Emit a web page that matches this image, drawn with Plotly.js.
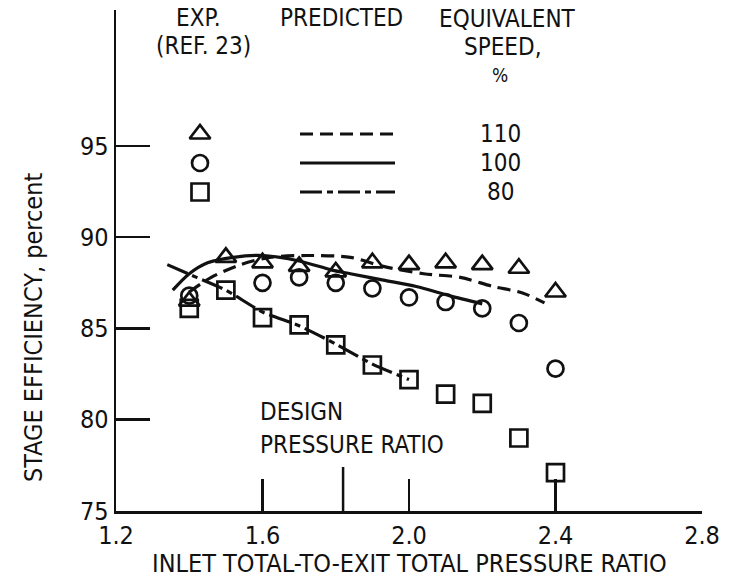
<!DOCTYPE html>
<html>
<head>
<meta charset="utf-8">
<script src="https://cdn.plot.ly/plotly-3.0.1.min.js"></script>
<style>html,body{margin:0;padding:0;background:#fff;}#chart{width:729px;height:580px;}</style>
</head>
<body>
<div id="chart"></div>
<script>
// ---- data ----
var xTickVals = [1.2, 1.6, 2.0, 2.4, 2.8];
var xTickText = ['1.2', '1.6', '2.0', '2.4', '2.8'];
var yTickVals = [75, 80, 85, 90, 95];
var yTickText = ['75', '80', '85', '90', '95'];

// Experimental (Ref. 23)
var exp110X = [1.4, 1.5, 1.6, 1.7, 1.8, 1.9, 2.0, 2.1, 2.2, 2.3, 2.4];
var exp110Y = [86.5, 88.9, 88.6, 88.4, 88.1, 88.6, 88.5, 88.6, 88.5, 88.3, 87.0];
var exp100X = [1.4, 1.6, 1.7, 1.8, 1.9, 2.0, 2.1, 2.2, 2.3, 2.4];
var exp100Y = [86.8, 87.5, 87.8, 87.5, 87.2, 86.7, 86.45, 86.1, 85.3, 82.8];
var exp80X = [1.4, 1.5, 1.6, 1.7, 1.8, 1.9, 2.0, 2.1, 2.2, 2.3, 2.4];
var exp80Y = [86.1, 87.1, 85.6, 85.2, 84.1, 83.0, 82.2, 81.4, 80.9, 79.0, 77.1];

// Predicted
var pred110X = [1.40, 1.46, 1.54, 1.62, 1.72, 1.84, 1.93, 2.04, 2.14, 2.23, 2.31, 2.37];
var pred110Y = [87.0, 87.8, 88.5, 88.9, 89.0, 88.9, 88.4, 88.0, 87.8, 87.3, 86.95, 86.4];
var pred100X = [1.355, 1.40, 1.45, 1.52, 1.60, 1.70, 1.79, 1.84, 1.93, 2.02, 2.11, 2.20];
var pred100Y = [87.1, 88.0, 88.6, 88.9, 89.0, 88.7, 88.2, 88.0, 87.65, 87.3, 86.8, 86.35];
var pred80X = [1.34, 1.42, 1.50, 1.60, 1.70, 1.80, 1.90, 2.00];
var pred80Y = [88.5, 87.8, 87.1, 85.9, 85.15, 84.15, 83.05, 82.2];

var designRatio = 1.82;
var speedLabels = ['110', '100', '80'];

// ---- layout geometry ----
var W = 729, H = 580;
var M = {l: 116, r: 27, t: 10, b: 69};
var xRange = [1.2, 2.8], yRange = [75, 102.45];
var pw = W - M.l - M.r, ph = H - M.t - M.b;
function dx(px) { return xRange[0] + (px - M.l) / pw * (xRange[1] - xRange[0]); }
function dy(py) { return yRange[0] + (M.t + ph - py) / ph * (yRange[1] - yRange[0]); }
function ppx(px) { return (px - M.l) / pw; }
function ppy(py) { return (M.t + ph - py) / ph; }

var FONT = "'Liberation Sans Narrow', 'DejaVu Sans Condensed', 'Arial Narrow', sans-serif";
var INK = '#111';
var LW = 3.2;

var dash110 = '13px,7px';
var dash80 = '22px,5px,6px,5px';

var keyRowsPy = [134, 163, 192];
var keyMarkPx = 200, keyLine = [300, 395], keyNumPx = 500;
var symbols = ['triangle-up-open', 'circle-open', 'square-open'];
var sizes = [18, 16, 17];
var dashes = [dash110, 'solid', dash80];

var traces = [];
// predicted curves
traces.push({x: pred110X, y: pred110Y, mode: 'lines', line: {color: INK, width: LW, dash: dash110, shape: 'spline', smoothing: 0.8}, hoverinfo: 'skip'});
traces.push({x: pred100X, y: pred100Y, mode: 'lines', line: {color: INK, width: LW, shape: 'spline', smoothing: 0.8}, hoverinfo: 'skip'});
traces.push({x: pred80X, y: pred80Y, mode: 'lines', line: {color: INK, width: LW, dash: dash80, shape: 'spline', smoothing: 0.6}, hoverinfo: 'skip'});
// experimental points
var mk = function (i) { return {symbol: symbols[i], size: sizes[i], color: INK, line: {color: INK, width: 2.7}}; };
traces.push({x: exp110X, y: exp110Y, mode: 'markers', marker: mk(0)});
traces.push({x: exp100X, y: exp100Y, mode: 'markers', marker: mk(1)});
traces.push({x: exp80X, y: exp80Y, mode: 'markers', marker: mk(2)});

// key symbols and lines
for (var i = 0; i < 3; i++) {
  traces.push({x: [dx(keyMarkPx)], y: [dy(keyRowsPy[i])], mode: 'markers', marker: mk(i), hoverinfo: 'skip'});
  traces.push({x: [dx(keyLine[0]), dx(keyLine[1])], y: [dy(keyRowsPy[i]), dy(keyRowsPy[i])], mode: 'lines',
    line: {color: INK, width: LW, dash: dashes[i]}, hoverinfo: 'skip'});
}

var ann = [];
function txt(t, px, py, anchor, size, angle) {
  ann.push({text: t, xref: 'paper', yref: 'paper', x: ppx(px), y: ppy(py), xanchor: anchor || 'center', yanchor: 'middle',
    showarrow: false, textangle: angle || 0, font: {family: FONT, size: size || 24, color: INK}});
}
txt('EXP.', 198, 18);
txt('(REF. 23)', 203, 46);
txt('PREDICTED', 341, 18);
txt('EQUIVALENT', 507, 19);
txt('SPEED,', 503, 47);
txt('%', 500, 75, 'center', 19);
for (var j = 0; j < 3; j++) txt(speedLabels[j], keyNumPx, keyRowsPy[j]);
txt('DESIGN', 258, 412, 'left');
txt('PRESSURE RATIO', 258, 445, 'left');
txt('INLET TOTAL-TO-EXIT TOTAL PRESSURE RATIO', 409, 563, 'center', 25);
txt('STAGE EFFICIENCY, percent', 33, 328, 'center', 25, -90);

var layout = {
  width: W, height: H, margin: M, showlegend: false,
  paper_bgcolor: '#fff', plot_bgcolor: '#fff',
  xaxis: {range: xRange, tickvals: xTickVals, ticktext: xTickText, ticks: 'inside', ticklen: 32, tickwidth: 2.5, tickcolor: INK,
    showline: true, linewidth: 2.5, linecolor: INK, showgrid: false, zeroline: false,
    tickfont: {family: FONT, size: 25, color: INK}},
  yaxis: {range: yRange, tickvals: yTickVals, ticktext: yTickText, ticks: 'inside', ticklen: 34, tickwidth: 2.5, tickcolor: INK,
    showline: true, linewidth: 2.5, linecolor: INK, showgrid: false, zeroline: false,
    tickfont: {family: FONT, size: 25, color: INK}},
  shapes: [{type: 'line', xref: 'x', yref: 'y', x0: designRatio, x1: designRatio, y0: yRange[0], y1: dy(M.t + ph - 44),
    line: {color: INK, width: 2.5}}],
  annotations: ann
};

Plotly.newPlot('chart', traces, layout, {staticPlot: true, displayModeBar: false});
</script>
</body>
</html>
